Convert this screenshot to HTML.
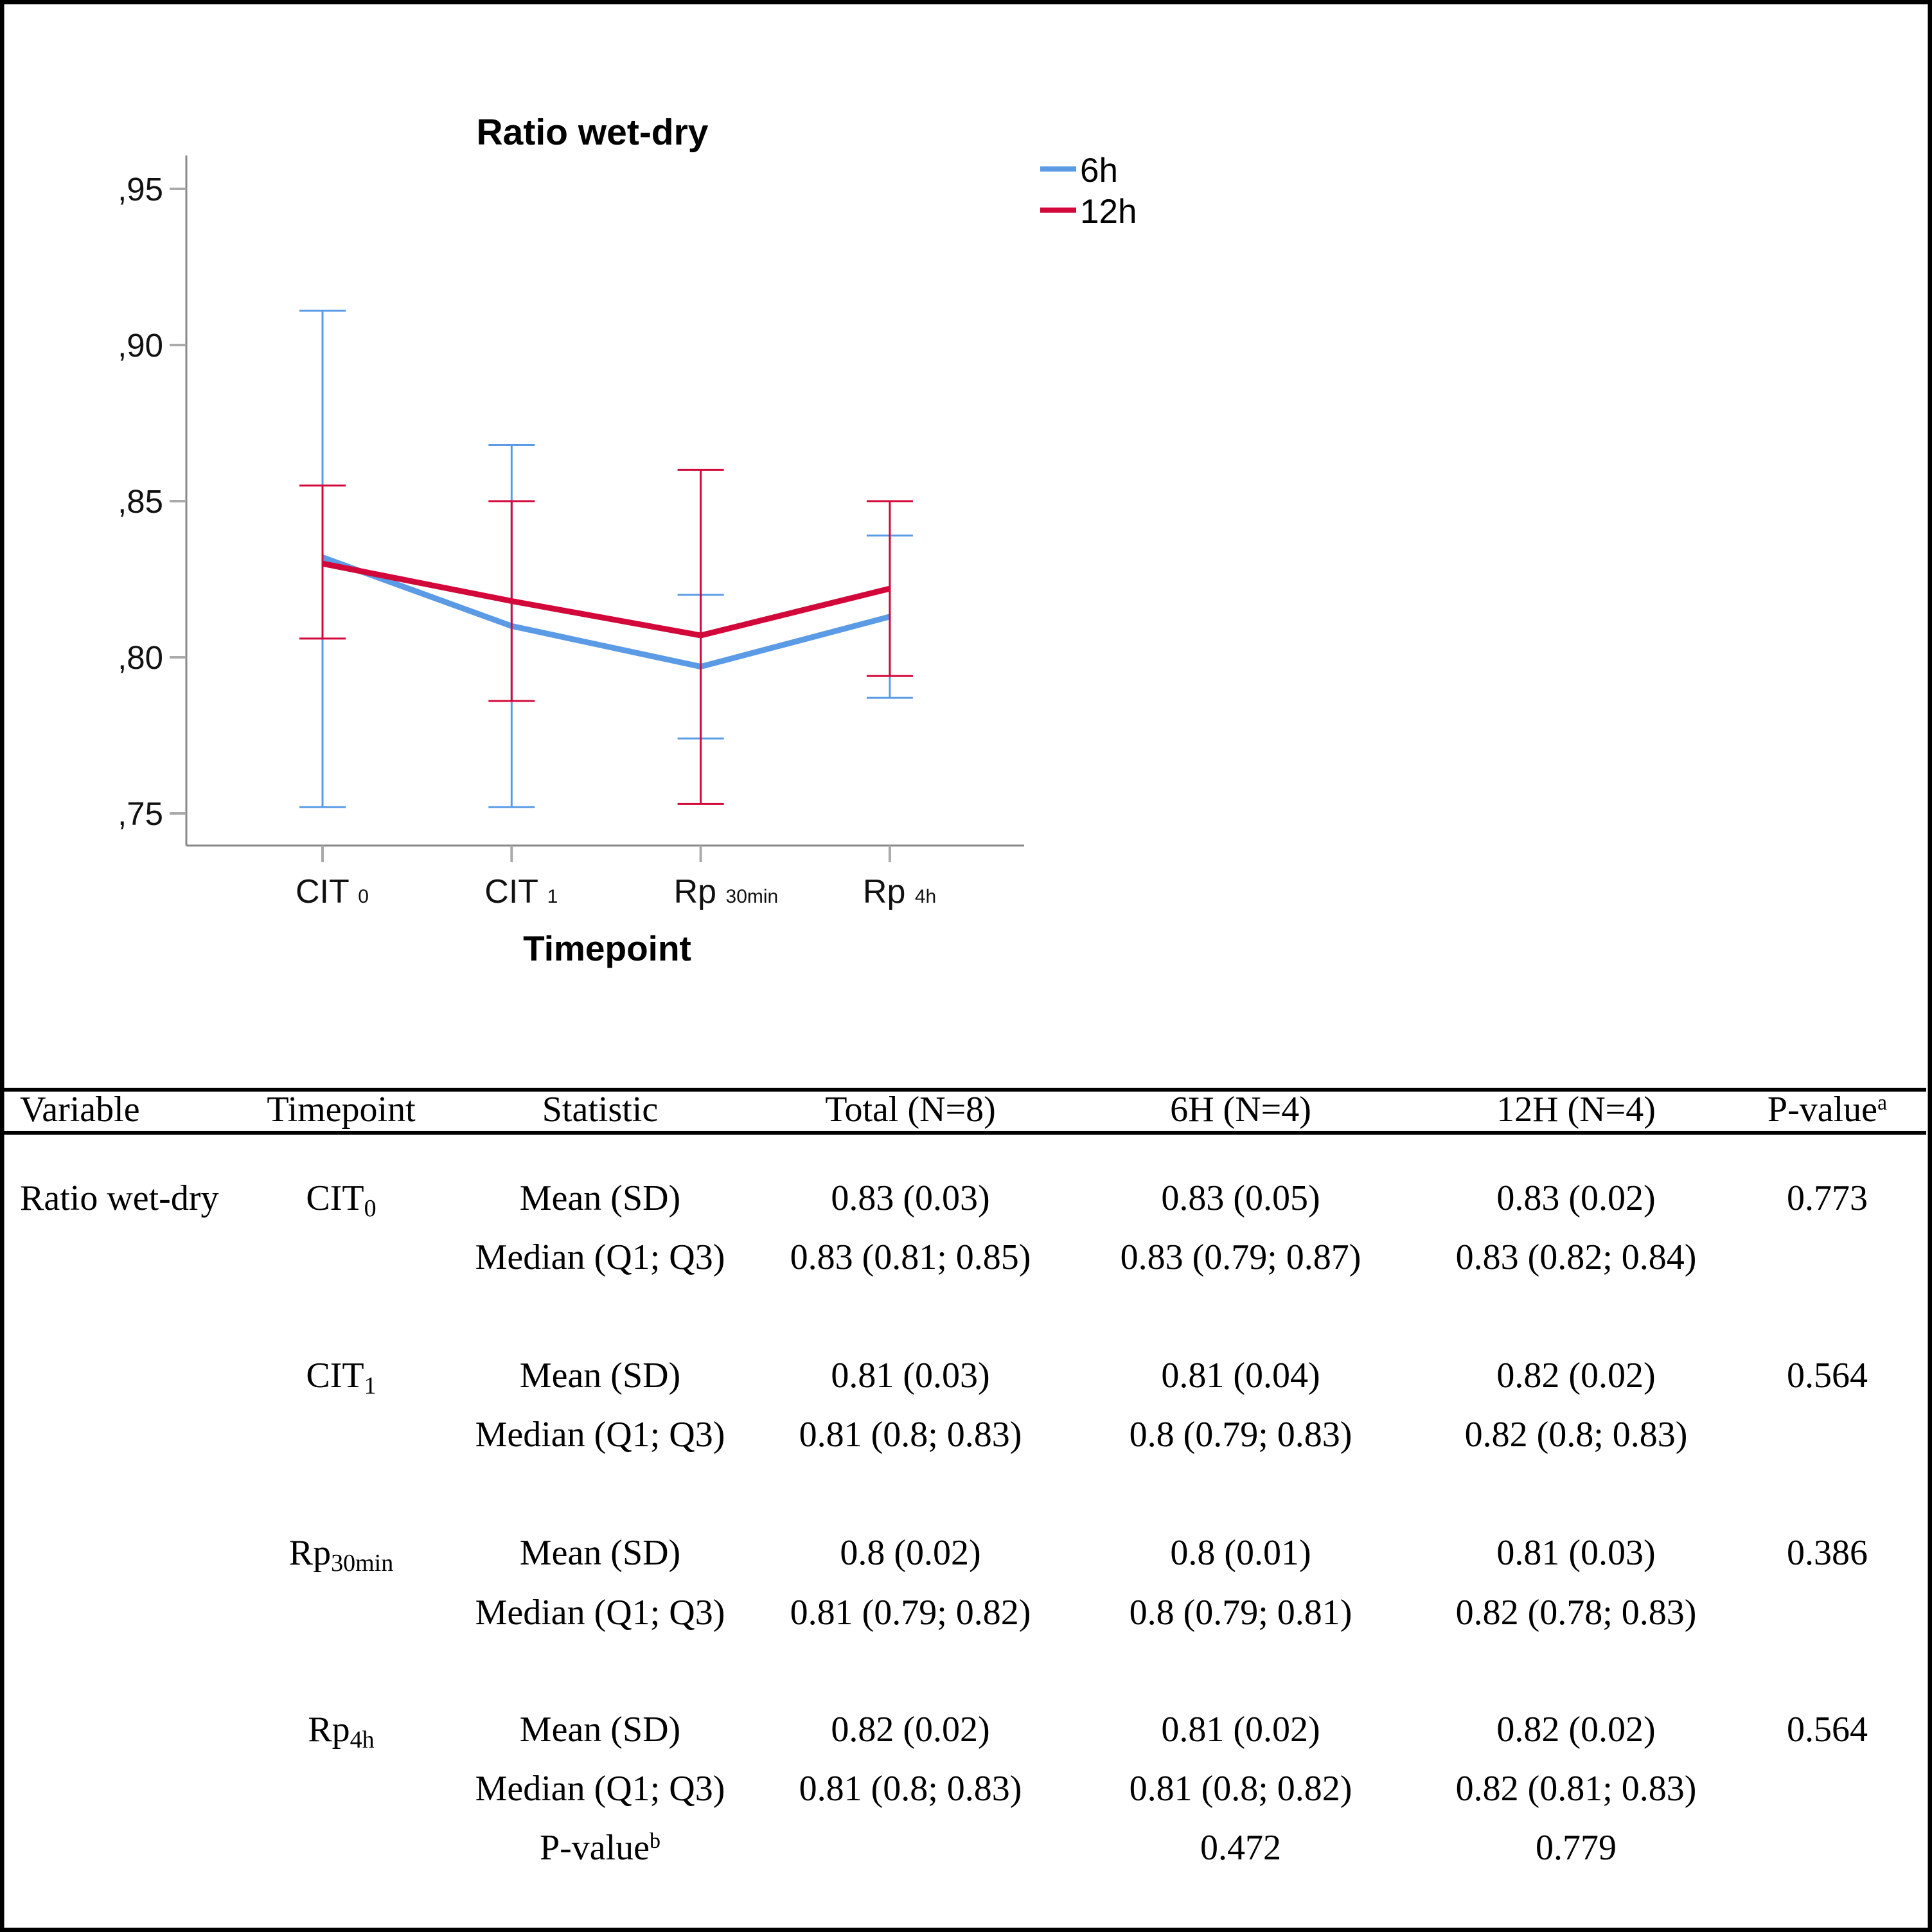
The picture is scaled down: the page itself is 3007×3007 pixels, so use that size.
<!DOCTYPE html>
<html><head><meta charset="utf-8">
<style>
html,body{margin:0;padding:0;background:#fff;}
svg{display:block;}
.ax{font-family:"Liberation Sans",Arial,sans-serif;}
.tb{font-family:"Liberation Serif","Times New Roman",serif;font-size:56px;fill:#000;}
</style></head>
<body>
<svg id="root" width="3007" height="3007" viewBox="0 0 3007 3007" xmlns="http://www.w3.org/2000/svg">
<rect x="3" y="3" width="3001" height="3001" fill="#fff" stroke="#000" stroke-width="7"/>
<g id="chart"></g>
<g id="table">
  <line x1="6" y1="1696" x2="2998" y2="1696" stroke="#000" stroke-width="6"/>
  <line x1="6" y1="1763" x2="2998" y2="1763" stroke="#000" stroke-width="6"/>
  <g class="tb">
    <text x="31" y="1745">Variable</text>
    <text x="531" y="1745" text-anchor="middle">Timepoint</text>
    <text x="934" y="1745" text-anchor="middle">Statistic</text>
    <text x="1417" y="1745" text-anchor="middle">Total (N=8)</text>
    <text x="1931" y="1745" text-anchor="middle">6H (N=4)</text>
    <text x="2453" y="1745" text-anchor="middle">12H (N=4)</text>
    <text x="2844" y="1745" text-anchor="middle">P-value<tspan font-size="34" dy="-18">a</tspan></text>
  </g>
  <g class="tb">
    <text x="31" y="1883">Ratio wet-dry</text>
    <text x="531" y="1883" text-anchor="middle">CIT<tspan font-size="38" dy="10">0</tspan></text>
    <text x="531" y="2159" text-anchor="middle">CIT<tspan font-size="38" dy="10">1</tspan></text>
    <text x="531" y="2435" text-anchor="middle">Rp<tspan font-size="38" dy="10">30min</tspan></text>
    <text x="531" y="2710" text-anchor="middle">Rp<tspan font-size="38" dy="10">4h</tspan></text>

    <text x="934" y="1883" text-anchor="middle">Mean (SD)</text>
    <text x="934" y="1975" text-anchor="middle">Median (Q1; Q3)</text>
    <text x="1417" y="1883" text-anchor="middle">0.83 (0.03)</text>
    <text x="1417" y="1975" text-anchor="middle">0.83 (0.81; 0.85)</text>
    <text x="1931" y="1883" text-anchor="middle">0.83 (0.05)</text>
    <text x="1931" y="1975" text-anchor="middle">0.83 (0.79; 0.87)</text>
    <text x="2453" y="1883" text-anchor="middle">0.83 (0.02)</text>
    <text x="2453" y="1975" text-anchor="middle">0.83 (0.82; 0.84)</text>
    <text x="2844" y="1883" text-anchor="middle">0.773</text>

    <text x="934" y="2159" text-anchor="middle">Mean (SD)</text>
    <text x="934" y="2251" text-anchor="middle">Median (Q1; Q3)</text>
    <text x="1417" y="2159" text-anchor="middle">0.81 (0.03)</text>
    <text x="1417" y="2251" text-anchor="middle">0.81 (0.8; 0.83)</text>
    <text x="1931" y="2159" text-anchor="middle">0.81 (0.04)</text>
    <text x="1931" y="2251" text-anchor="middle">0.8 (0.79; 0.83)</text>
    <text x="2453" y="2159" text-anchor="middle">0.82 (0.02)</text>
    <text x="2453" y="2251" text-anchor="middle">0.82 (0.8; 0.83)</text>
    <text x="2844" y="2159" text-anchor="middle">0.564</text>

    <text x="934" y="2435" text-anchor="middle">Mean (SD)</text>
    <text x="934" y="2528" text-anchor="middle">Median (Q1; Q3)</text>
    <text x="1417" y="2435" text-anchor="middle">0.8 (0.02)</text>
    <text x="1417" y="2528" text-anchor="middle">0.81 (0.79; 0.82)</text>
    <text x="1931" y="2435" text-anchor="middle">0.8 (0.01)</text>
    <text x="1931" y="2528" text-anchor="middle">0.8 (0.79; 0.81)</text>
    <text x="2453" y="2435" text-anchor="middle">0.81 (0.03)</text>
    <text x="2453" y="2528" text-anchor="middle">0.82 (0.78; 0.83)</text>
    <text x="2844" y="2435" text-anchor="middle">0.386</text>

    <text x="934" y="2710" text-anchor="middle">Mean (SD)</text>
    <text x="934" y="2802" text-anchor="middle">Median (Q1; Q3)</text>
    <text x="934" y="2894" text-anchor="middle">P-value<tspan font-size="34" dy="-18">b</tspan></text>
    <text x="1417" y="2710" text-anchor="middle">0.82 (0.02)</text>
    <text x="1417" y="2802" text-anchor="middle">0.81 (0.8; 0.83)</text>
    <text x="1931" y="2710" text-anchor="middle">0.81 (0.02)</text>
    <text x="1931" y="2802" text-anchor="middle">0.81 (0.8; 0.82)</text>
    <text x="1931" y="2894" text-anchor="middle">0.472</text>
    <text x="2453" y="2710" text-anchor="middle">0.82 (0.02)</text>
    <text x="2453" y="2802" text-anchor="middle">0.82 (0.81; 0.83)</text>
    <text x="2453" y="2894" text-anchor="middle">0.779</text>
    <text x="2844" y="2710" text-anchor="middle">0.564</text>
  </g>
</g>
</svg>
<script>
const categories = ["CIT", "CIT", "Rp", "Rp"];
const categorySubs = ["0", "1", "30min", "4h"];
const series6hMean = [0.832, 0.810, 0.797, 0.813];
const series6hLow = [0.752, 0.752, 0.774, 0.787];
const series6hHigh = [0.911, 0.868, 0.820, 0.839];
const series12hMean = [0.830, 0.818, 0.807, 0.822];
const series12hLow = [0.806, 0.786, 0.753, 0.794];
const series12hHigh = [0.855, 0.850, 0.860, 0.850];
const yTicks = [0.95, 0.90, 0.85, 0.80, 0.75];
const yTickLabels = [",95", ",90", ",85", ",80", ",75"];

const NS = "http://www.w3.org/2000/svg";
const g = document.getElementById("chart");
const X0 = 290, X1 = 1594, Y0 = 242, Y1 = 1316;
function yScale(v){ return 294 + (0.95 - v) * (1266 - 294) / 0.20; }
function xScale(i){ return 502 + i * 294.3; }
function mk(tag, attrs){ const e = document.createElementNS(NS, tag); for (const k in attrs) e.setAttribute(k, attrs[k]); g.appendChild(e); return e; }

const yAxis = mk("line", {x1:X0, y1:Y0, x2:X0, y2:Y1, stroke:"#888", "stroke-width":3});


const xAxis = mk("line", {x1:X0, y1:Y1, x2:X1, y2:Y1, stroke:"#888", "stroke-width":3});



yTicks.forEach((v, i) => {
  const y = yScale(v);
  const t = mk("line", {x1:X0-26, y1:y, x2:X0, y2:y, stroke:"#aaa", "stroke-width":4});
  
  
  const l = mk("text", {x:X0-36, y:y+18, "text-anchor":"end", class:"ax", "font-size":51, fill:"#111"});
  l.textContent = yTickLabels[i];
  
  
});

categories.forEach((c, i) => {
  const x = xScale(i);
  const t = mk("line", {x1:x, y1:Y1, x2:x, y2:Y1+26, stroke:"#aaa", "stroke-width":4});
  
  
  const l = mk("text", {x:x-42, y:1405, class:"ax", "font-size":52, fill:"#111"});
  l.textContent = c + " ";
  const s = document.createElementNS(NS, "tspan");
  s.setAttribute("font-size", "30");
  s.setAttribute("dy", "0");
  s.textContent = categorySubs[i];
  l.appendChild(s);
  
  
});

function drawSeries(mean, low, high, color, name){
  low.forEach((lo, i) => {
    const x = xScale(i);
    const v = mk("line", {x1:x, y1:yScale(lo), x2:x, y2:yScale(high[i]), stroke:color, "stroke-width":3});
    
    
    [lo, high[i]].forEach(val => {
      const cap = mk("line", {x1:x-36, y1:yScale(val), x2:x+36, y2:yScale(val), stroke:color, "stroke-width":3});
      
      
    });
  });
  const pts = mean.map((m, i) => xScale(i) + "," + yScale(m)).join(" ");
  const pl = mk("polyline", {points:pts, fill:"none", stroke:color, "stroke-width":9, "stroke-linejoin":"round"});
  
  
}
drawSeries(series6hMean, series6hLow, series6hHigh, "#5b9be6", "series-6h");
drawSeries(series12hMean, series12hLow, series12hHigh, "#d2083a", "series-12h");

const title = mk("text", {x:922, y:225, "text-anchor":"middle", class:"ax", "font-size":57, "font-weight":"bold", fill:"#000"});
title.textContent = "Ratio wet-dry";


const xt = mk("text", {x:945, y:1495, "text-anchor":"middle", class:"ax", "font-size":55, "font-weight":"bold", fill:"#000"});
xt.textContent = "Timepoint";



[["6h", "#5b9be6", 263], ["12h", "#d2083a", 327]].forEach(([lab, col, y]) => {
  const ln = mk("line", {x1:1619, y1:y, x2:1675, y2:y, stroke:col, "stroke-width":8});
  
  
  const tx = mk("text", {x:1681, y:y+20, class:"ax", "font-size":53, fill:"#000"});
  tx.textContent = lab;
  
  
});
</script>
</body></html>
